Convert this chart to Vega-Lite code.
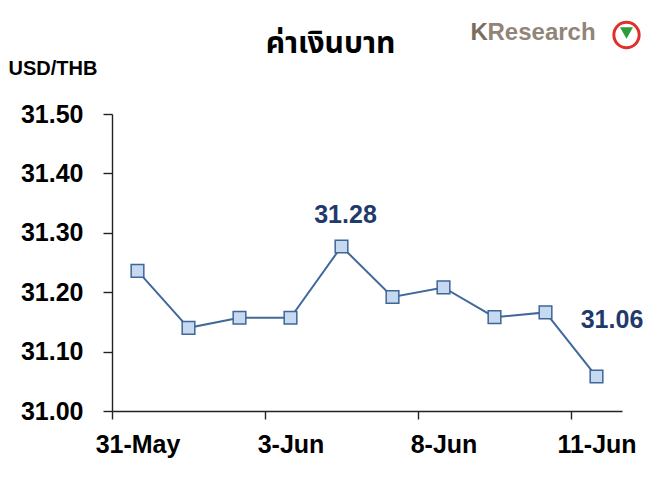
{
  "$schema": "https://vega.github.io/schema/vega-lite/v6.json",
  "width": 510,
  "height": 297,
  "autosize": "none",
  "padding": {"left": 112, "top": 114, "right": 38, "bottom": 68},
  "background": "white",
  "config": {"view": {"stroke": null}, "font": "Liberation Sans"},
  "data": {
    "values": [
      {"date": "31-May", "rate": 31.236},
      {"date": "1-Jun", "rate": 31.14},
      {"date": "2-Jun", "rate": 31.157},
      {"date": "3-Jun", "rate": 31.157},
      {"date": "4-Jun", "rate": 31.277},
      {"date": "7-Jun", "rate": 31.192},
      {"date": "8-Jun", "rate": 31.208},
      {"date": "9-Jun", "rate": 31.158},
      {"date": "10-Jun", "rate": 31.166},
      {"date": "11-Jun", "rate": 31.058}
    ]
  },
  "encoding": {
    "x": {
      "field": "date",
      "type": "ordinal",
      "sort": null,
      "scale": {"paddingInner": 0, "paddingOuter": 0},
      "axis": {
        "title": null,
        "values": ["31-May", "3-Jun", "8-Jun", "11-Jun"],
        "tickOffset": -25.5,
        "labelOffset": 25.5,
        "labelAngle": 0,
        "labelFontSize": 25,
        "labelFontWeight": "bold",
        "labelColor": "black",
        "labelPadding": 13,
        "tickSize": 8,
        "tickColor": "#222222",
        "domainColor": "#222222",
        "domainWidth": 1.4,
        "tickWidth": 1.4,
        "grid": false
      }
    },
    "y": {
      "field": "rate",
      "type": "quantitative",
      "scale": {"domain": [31.0, 31.5], "zero": false, "nice": false},
      "axis": {
        "values": [31.0, 31.1, 31.2, 31.3, 31.4, 31.5],
        "format": ".2f",
        "grid": false,
        "labelFontSize": 25,
        "labelFontWeight": "bold",
        "labelColor": "black",
        "labelPadding": 20,
        "tickSize": 9,
        "tickColor": "#222222",
        "domainColor": "#222222",
        "domainWidth": 1.4,
        "tickWidth": 1.4,
        "title": "USD/THB",
        "titleAngle": 0,
        "titleAlign": "left",
        "titleBaseline": "alphabetic",
        "titleX": -104,
        "titleY": -40,
        "titleFontSize": 20,
        "titleFontWeight": "bold",
        "titleColor": "black"
      }
    }
  },
  "layer": [
    {
      "mark": {"type": "line", "color": "#41699c", "strokeWidth": 2}
    },
    {
      "mark": {
        "type": "point",
        "shape": "square",
        "filled": true,
        "size": 160,
        "fill": "#c6d9f1",
        "stroke": "#3e6699",
        "strokeWidth": 1.5,
        "opacity": 1
      }
    },
    {
      "transform": [{"filter": "datum.date == '4-Jun'"}],
      "mark": {"type": "text", "fontSize": 25, "fontWeight": "bold", "color": "#1f3a6b", "dx": 4, "dy": -31, "baseline": "middle"},
      "encoding": {"text": {"field": "rate", "type": "quantitative", "format": ".2f"}}
    },
    {
      "transform": [{"filter": "datum.date == '11-Jun'"}],
      "mark": {"type": "text", "fontSize": 25, "fontWeight": "bold", "color": "#1f3a6b", "dx": 15.5, "dy": -57, "baseline": "middle"},
      "encoding": {"text": {"field": "rate", "type": "quantitative", "format": ".2f"}}
    },
    {
      "transform": [{"filter": "datum.date == '4-Jun'"}],
      "mark": {"type": "text", "font": "Noto Sans Thai, Noto Sans, DejaVu Sans, sans-serif", "fontSize": 30, "fontWeight": "bold", "color": "black", "align": "center", "baseline": "alphabetic", "dx": -11, "dy": -61},
      "encoding": {"y": {"datum": 31.5, "type": "quantitative"}, "text": {"value": "ค่าเงินบาท"}}
    },
    {
      "transform": [{"filter": "datum.date == '11-Jun'"}],
      "mark": {"type": "text", "fontSize": 24, "fontWeight": "bold", "color": "#7b6c60", "align": "left", "baseline": "alphabetic", "dx": -126, "dy": -74},
      "encoding": {"y": {"datum": 31.5, "type": "quantitative"}, "text": {"value": "K"}}
    },
    {
      "transform": [{"filter": "datum.date == '11-Jun'"}],
      "mark": {"type": "text", "fontSize": 24, "fontWeight": "bold", "color": "#918579", "align": "left", "baseline": "alphabetic", "dx": -109, "dy": -74},
      "encoding": {"y": {"datum": 31.5, "type": "quantitative"}, "text": {"value": "Research"}}
    },
    {
      "transform": [{"filter": "datum.date == '11-Jun'"}],
      "mark": {"type": "point", "shape": "circle", "size": 640, "filled": false, "stroke": "#e0302a", "strokeWidth": 3, "fill": "white", "xOffset": 30, "yOffset": -79, "opacity": 1},
      "encoding": {"y": {"datum": 31.5, "type": "quantitative"}}
    },
    {
      "transform": [{"filter": "datum.date == '11-Jun'"}],
      "mark": {"type": "point", "shape": "triangle-down", "size": 170, "filled": true, "fill": "#2f9a3c", "strokeWidth": 0, "xOffset": 30, "yOffset": -81, "opacity": 1},
      "encoding": {"y": {"datum": 31.5, "type": "quantitative"}}
    }
  ]
}
